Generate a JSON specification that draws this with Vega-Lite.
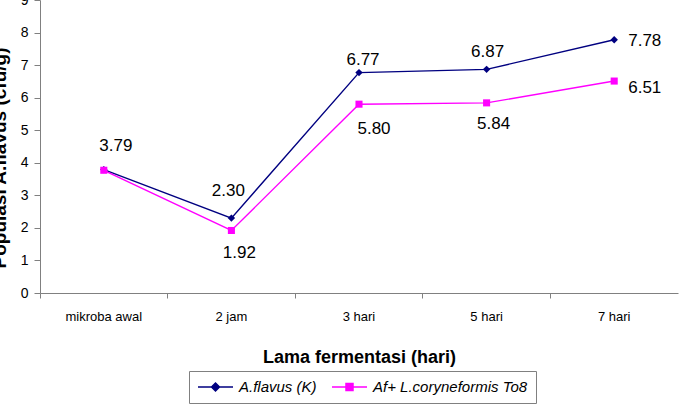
{
  "$schema": "https://vega.github.io/schema/vega-lite/v6.json",
  "width": 638,
  "height": 293,
  "autosize": "none",
  "padding": {"left": 40, "top": 0, "right": 2, "bottom": 121},
  "background": "white",
  "config": {
    "view": {"stroke": null},
    "font": "Liberation Sans",
    "axis": {"labelFont": "Liberation Sans", "titleFont": "Liberation Sans", "labelColor": "black", "titleColor": "black", "domainColor": "#808080", "tickColor": "#808080", "grid": false, "labelFontSize": 13}
  },
  "data": {
    "values": [
      {"waktu": "mikroba awal", "seri": "A.flavus (K)", "nilai": 3.79},
      {"waktu": "2 jam", "seri": "A.flavus (K)", "nilai": 2.30},
      {"waktu": "3 hari", "seri": "A.flavus (K)", "nilai": 6.77},
      {"waktu": "5 hari", "seri": "A.flavus (K)", "nilai": 6.87},
      {"waktu": "7 hari", "seri": "A.flavus (K)", "nilai": 7.78},
      {"waktu": "mikroba awal", "seri": "Af+ L.coryneformis To8", "nilai": 3.77},
      {"waktu": "2 jam", "seri": "Af+ L.coryneformis To8", "nilai": 1.92},
      {"waktu": "3 hari", "seri": "Af+ L.coryneformis To8", "nilai": 5.80},
      {"waktu": "5 hari", "seri": "Af+ L.coryneformis To8", "nilai": 5.84},
      {"waktu": "7 hari", "seri": "Af+ L.coryneformis To8", "nilai": 6.51}
    ]
  },
  "encoding": {
    "x": {"field": "waktu", "type": "nominal", "sort": null,
      "scale": {"type": "band", "paddingInner": 0, "paddingOuter": 0, "domain": ["mikroba awal", "2 jam", "3 hari", "5 hari", "7 hari"]},
      "axis": {"bandPosition": 0, "tickSize": 5, "labelFontSize": 13, "labelPadding": 12, "labelAngle": 0,
        "title": "Lama fermentasi (hari)", "titleFontSize": 18, "titleFontWeight": "bold", "titlePadding": 25}},
    "y": {"field": "nilai", "type": "quantitative", "scale": {"domain": [0, 9], "nice": false, "zero": true},
      "axis": {"values": [0,1,2,3,4,5,6,7,8,9], "tickSize": 6, "labelPadding": 6, "labelFontSize": 14,
        "title": "Populasi A.flavus (cfu/g)", "titleFontSize": 19, "titleFontWeight": "bold",
        "titleAngle": 270, "titleAlign": "left", "titleBaseline": "alphabetic", "titleX": -35, "titleY": 268}},
    "color": {"field": "seri", "type": "nominal",
      "scale": {"domain": ["A.flavus (K)", "Af+ L.coryneformis To8"], "range": ["#000080", "#FF00FF"]},
      "legend": {
        "title": null, "orient": "none", "direction": "horizontal", "legendX": 149, "legendY": 371,
        "strokeColor": "#808080", "padding": 8, "columnPadding": 12,
        "labelFont": "Liberation Sans", "labelFontStyle": "italic", "labelFontSize": 15, "labelColor": "black",
        "labelOffset": 26, "symbolSize": 196, "symbolStrokeWidth": 1.5, "symbolType": "stroke",
        "encode": {"symbols": {"update": {
          "shape": {"signal": "datum.value === 'A.flavus (K)' ? 'M-1,0H4M0.93,0L1.5,-0.57L2.07,0L1.5,0.57Z' : 'M-1,0H4M1,-0.5H2V0.5H1Z'"},
          "size": {"value": 196},
          "strokeWidth": {"value": 1.5},
          "fill": {"scale": "color", "field": "value"},
          "stroke": {"scale": "color", "field": "value"},
          "fillOpacity": {"value": 1},
          "strokeOpacity": {"value": 1},
          "opacity": {"value": 1}
        }}}
      }}
  },
  "layer": [
    {
      "mark": {"type": "line", "strokeWidth": 1.4}
    },
    {
      "transform": [{"filter": "datum.seri === 'A.flavus (K)'"}],
      "mark": {"type": "point", "filled": true, "opacity": 1, "size": 55, "shape": "diamond"}
    },
    {
      "transform": [{"filter": "datum.seri !== 'A.flavus (K)'"}],
      "mark": {"type": "point", "filled": true, "opacity": 1, "size": 50, "shape": "square"}
    },
    {
      "transform": [{"filter": "datum.seri === 'A.flavus (K)' && datum.waktu === 'mikroba awal'"}],
      "mark": {"type": "text", "fontSize": 17, "font": "Liberation Sans", "color": "black", "baseline": "alphabetic", "dx": 12, "dy": -19},
      "encoding": {"text": {"field": "nilai", "format": ".2f"}, "color": {"value": "black"}}
    },
    {
      "transform": [{"filter": "datum.seri === 'A.flavus (K)' && datum.waktu === '2 jam'"}],
      "mark": {"type": "text", "fontSize": 17, "font": "Liberation Sans", "color": "black", "baseline": "alphabetic", "dx": -3, "dy": -22},
      "encoding": {"text": {"field": "nilai", "format": ".2f"}, "color": {"value": "black"}}
    },
    {
      "transform": [{"filter": "datum.seri === 'A.flavus (K)' && datum.waktu === '3 hari'"}],
      "mark": {"type": "text", "fontSize": 17, "font": "Liberation Sans", "color": "black", "baseline": "alphabetic", "dx": 4, "dy": -8},
      "encoding": {"text": {"field": "nilai", "format": ".2f"}, "color": {"value": "black"}}
    },
    {
      "transform": [{"filter": "datum.seri === 'A.flavus (K)' && datum.waktu === '5 hari'"}],
      "mark": {"type": "text", "fontSize": 17, "font": "Liberation Sans", "color": "black", "baseline": "alphabetic", "dx": 1, "dy": -12},
      "encoding": {"text": {"field": "nilai", "format": ".2f"}, "color": {"value": "black"}}
    },
    {
      "transform": [{"filter": "datum.seri === 'A.flavus (K)' && datum.waktu === '7 hari'"}],
      "mark": {"type": "text", "fontSize": 17, "font": "Liberation Sans", "color": "black", "baseline": "alphabetic", "align": "left", "dx": 14, "dy": 6},
      "encoding": {"text": {"field": "nilai", "format": ".2f"}, "color": {"value": "black"}}
    },
    {
      "transform": [{"filter": "datum.seri !== 'A.flavus (K)' && datum.waktu === '2 jam'"}],
      "mark": {"type": "text", "fontSize": 17, "font": "Liberation Sans", "color": "black", "baseline": "alphabetic", "dx": 8, "dy": 28},
      "encoding": {"text": {"field": "nilai", "format": ".2f"}, "color": {"value": "black"}}
    },
    {
      "transform": [{"filter": "datum.seri !== 'A.flavus (K)' && datum.waktu === '3 hari'"}],
      "mark": {"type": "text", "fontSize": 17, "font": "Liberation Sans", "color": "black", "baseline": "alphabetic", "dx": 15, "dy": 30},
      "encoding": {"text": {"field": "nilai", "format": ".2f"}, "color": {"value": "black"}}
    },
    {
      "transform": [{"filter": "datum.seri !== 'A.flavus (K)' && datum.waktu === '5 hari'"}],
      "mark": {"type": "text", "fontSize": 17, "font": "Liberation Sans", "color": "black", "baseline": "alphabetic", "dx": 7, "dy": 26},
      "encoding": {"text": {"field": "nilai", "format": ".2f"}, "color": {"value": "black"}}
    },
    {
      "transform": [{"filter": "datum.seri !== 'A.flavus (K)' && datum.waktu === '7 hari'"}],
      "mark": {"type": "text", "fontSize": 17, "font": "Liberation Sans", "color": "black", "baseline": "alphabetic", "align": "left", "dx": 14, "dy": 12},
      "encoding": {"text": {"field": "nilai", "format": ".2f"}, "color": {"value": "black"}}
    }
  ]
}
